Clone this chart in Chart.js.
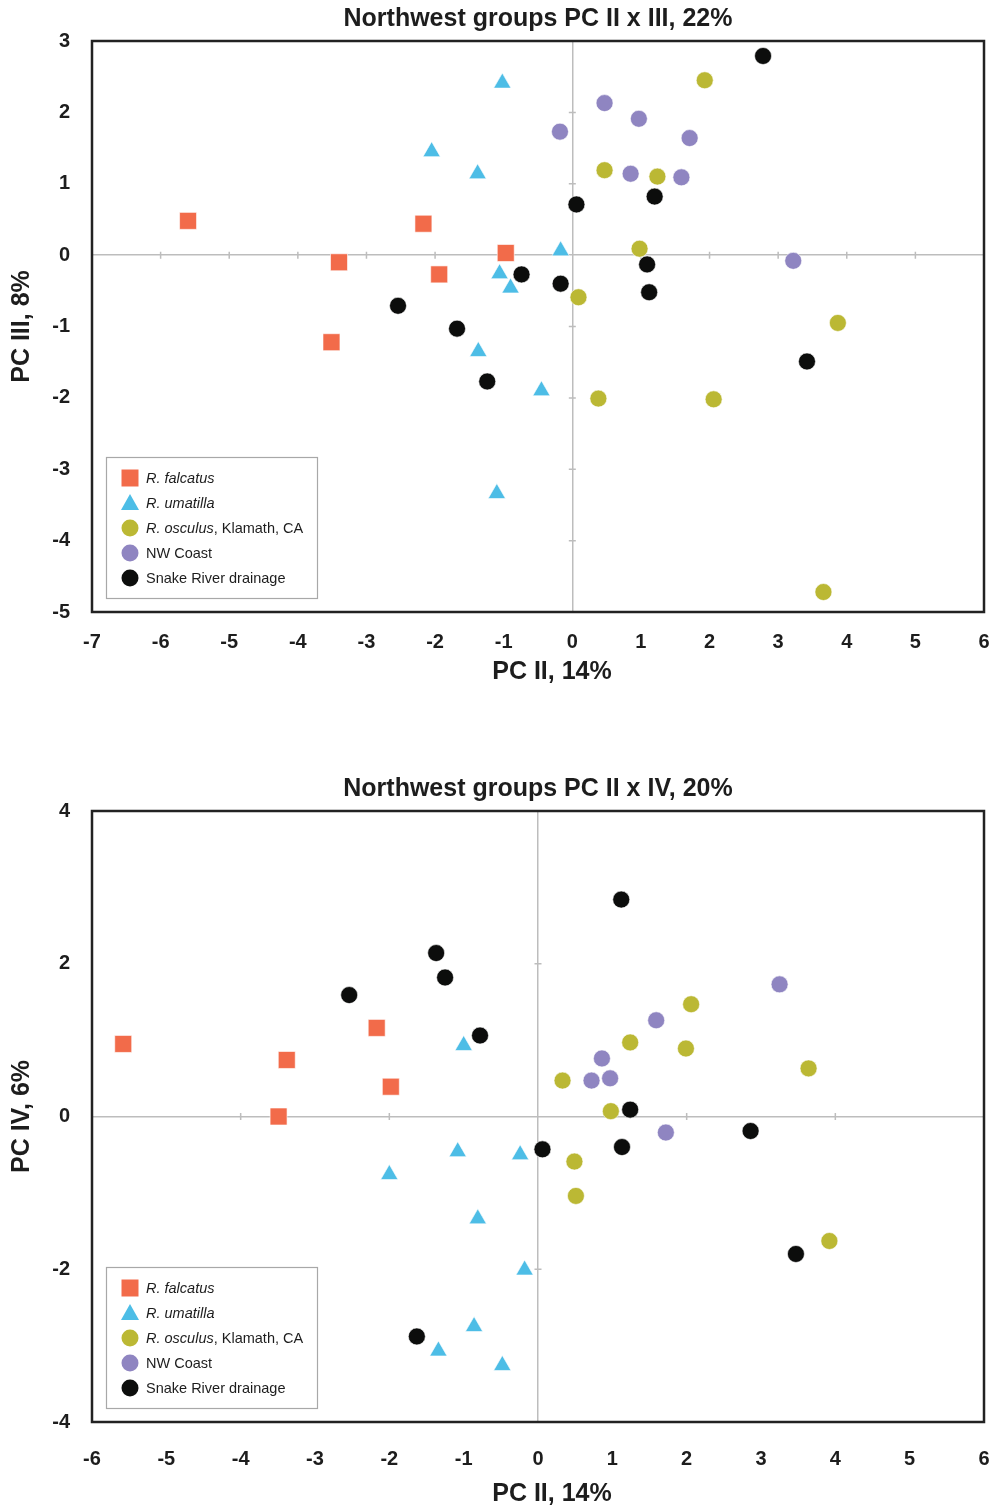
<!DOCTYPE html>
<html>
<head>
<meta charset="utf-8">
<script src="https://cdn.jsdelivr.net/npm/chart.js@4.4.1/dist/chart.umd.min.js"></script>
<style>
  html, body { margin: 0; padding: 0; background: #fff; }
  .wrap { position: absolute; left: 0; width: 997px; }
  #top { top: 0; height: 700px; }
  #bottom { top: 760px; height: 748px; }
</style>
</head>
<body>
<div class="wrap" id="top"><canvas id="chart23" width="997" height="700"></canvas></div>
<div class="wrap" id="bottom"><canvas id="chart24" width="997" height="748"></canvas></div>
<script>
// Groups (same order in both plots)
const groupNames = ['R. falcatus', 'R. umatilla', 'R. osculus, Klamath, CA', 'NW Coast', 'Snake River drainage'];
const legendItalic = ['R. falcatus', 'R. umatilla', 'R. osculus', '', ''];
const legendPlain = ['', '', ', Klamath, CA', 'NW Coast', 'Snake River drainage'];

// PC II x PC III scores [PC II, PC III]
const falcatus23 = [[-5.60, 0.48], [-2.17, 0.44], [-3.40, -0.10], [-0.97, 0.03], [-1.94, -0.27], [-3.51, -1.22]];
const umatilla23 = [[-1.02, 2.41], [-2.05, 1.45], [-1.38, 1.14], [-0.17, 0.06], [-1.06, -0.26], [-0.90, -0.46], [-1.37, -1.35], [-0.45, -1.90], [-1.10, -3.34]];
const osculus23 = [[1.93, 2.45], [0.47, 1.19], [1.24, 1.10], [0.98, 0.09], [0.09, -0.59], [3.87, -0.95], [0.38, -2.01], [2.06, -2.02], [3.66, -4.72]];
const nwcoast23 = [[-0.18, 1.73], [0.47, 2.13], [0.97, 1.91], [1.71, 1.64], [0.85, 1.14], [1.59, 1.09], [3.22, -0.08]];
const snake23 = [[2.78, 2.79], [0.06, 0.71], [1.20, 0.82], [1.09, -0.13], [-0.17, -0.40], [1.12, -0.52], [3.42, -1.49], [-0.74, -0.27], [-2.54, -0.71], [-1.68, -1.03], [-1.24, -1.77]];

// PC II x PC IV scores [PC II, PC IV]
const falcatus24 = [[-5.58, 0.95], [-3.38, 0.74], [-2.17, 1.16], [-1.98, 0.39], [-3.49, 0.00]];
const umatilla24 = [[-1.00, 0.93], [-1.08, -0.46], [-0.24, -0.50], [-2.00, -0.76], [-0.81, -1.34], [-0.18, -2.01], [-0.86, -2.75], [-1.34, -3.07], [-0.48, -3.26]];
const osculus24 = [[2.06, 1.47], [1.24, 0.97], [1.99, 0.89], [3.64, 0.63], [0.33, 0.47], [0.98, 0.07], [0.49, -0.59], [0.51, -1.04], [3.92, -1.63]];
const nwcoast24 = [[3.25, 1.73], [1.59, 1.26], [0.86, 0.76], [0.72, 0.47], [0.97, 0.50], [1.72, -0.21]];
const snake24 = [[-1.37, 2.14], [-1.25, 1.82], [-2.54, 1.59], [-0.78, 1.06], [-1.63, -2.88], [1.12, 2.84], [1.24, 0.09], [0.06, -0.43], [1.13, -0.40], [2.86, -0.19], [3.47, -1.80]];

// Look
const groupColors = ['#f26b4a', '#4dbde6', '#bbb834', '#8f85c1', '#0c0d0c'];
const groupStyles = ['rect', 'triangle', 'circle', 'circle', 'circle'];
const groupRadius = [12, 10, 8.5, 8.5, 8.5];
const fontFamily = "'Liberation Sans', Arial, Helvetica, sans-serif";
const inkColor = '#1d1d1d';
const zeroColor = '#bdbdbd';

// titles, frame, zero-line ticks and the legend box
const framePlugin = {
    id: 'frame',
    beforeDatasetsDraw(chart, args, opts) {
        const {ctx, chartArea: a} = chart;
        const xs = chart.scales.x, ys = chart.scales.y;
        const x0 = xs.getPixelForValue(0), y0 = ys.getPixelForValue(0);
        ctx.save();
        ctx.strokeStyle = zeroColor;
        ctx.lineWidth = 1.5;
        ctx.beginPath();
        for (let v = xs.min + opts.xTick; v < xs.max; v += opts.xTick) {
            if (Math.abs(v) < 1e-9) continue;
            const px = xs.getPixelForValue(v);
            ctx.moveTo(px, y0 - 3.5); ctx.lineTo(px, y0 + 3.5);
        }
        for (let v = ys.min + opts.yTick; v < ys.max; v += opts.yTick) {
            if (Math.abs(v) < 1e-9) continue;
            const py = ys.getPixelForValue(v);
            ctx.moveTo(x0 - 3.5, py); ctx.lineTo(x0 + 3.5, py);
        }
        ctx.stroke();
        ctx.strokeStyle = '#222';
        ctx.lineWidth = 2.5;
        ctx.strokeRect(a.left, a.top, a.right - a.left, a.bottom - a.top);
        ctx.restore();
    },
    afterDatasetsDraw(chart, args, opts) {
        const {ctx, chartArea: a} = chart;
        ctx.save();
        // chart title and x-axis title
        ctx.fillStyle = inkColor;
        ctx.font = 'bold 25px ' + fontFamily;
        ctx.textAlign = 'center';
        ctx.textBaseline = 'middle';
        ctx.fillText(opts.title, (a.left + a.right) / 2, a.top - 22);
        ctx.fillText('PC II, 14%', (a.left + a.right) / 2 + 14, a.bottom + opts.xTitleGap);

        // legend
        const bw = 211, bh = 141;
        const bx = a.left + 14, by = a.bottom - 14 - bh;
        ctx.fillStyle = '#fff';
        ctx.fillRect(bx, by, bw, bh);
        ctx.strokeStyle = '#a8a8a8';
        ctx.lineWidth = 1.2;
        ctx.strokeRect(bx + 0.5, by + 0.5, bw, bh);
        ctx.textAlign = 'left';
        groupNames.forEach((name, i) => {
            const cy = by + 21 + i * 25;
            const mx = bx + 24;
            ctx.fillStyle = groupColors[i];
            ctx.beginPath();
            if (groupStyles[i] === 'rect') {
                ctx.rect(mx - 8.5, cy - 8.5, 17, 17);
            } else if (groupStyles[i] === 'triangle') {
                ctx.moveTo(mx, cy - 9);
                ctx.lineTo(mx + 9, cy + 7);
                ctx.lineTo(mx - 9, cy + 7);
                ctx.closePath();
            } else {
                ctx.arc(mx, cy, 8.5, 0, Math.PI * 2);
            }
            ctx.fill();

            let tx = bx + 40;
            ctx.fillStyle = inkColor;
            if (legendItalic[i]) {
                ctx.font = 'italic 14.5px ' + fontFamily;
                ctx.fillText(legendItalic[i], tx, cy + 1);
                tx += ctx.measureText(legendItalic[i]).width;
            }
            if (legendPlain[i]) {
                ctx.font = '14.5px ' + fontFamily;
                ctx.fillText(legendPlain[i], tx, cy + 1);
            }
        });
        ctx.restore();
    }
};

function makeChart(id, cfg) {
    const datasets = cfg.series.map((pts, i) => ({
        label: groupNames[i],
        data: pts.map(p => ({x: p[0], y: p[1]})),
        pointStyle: groupStyles[i],
        pointRadius: groupRadius[i],
        pointHoverRadius: groupRadius[i],
        backgroundColor: groupColors[i],
        borderColor: 'rgba(255,255,255,0.6)',
        borderWidth: 1,
        order: 4 - i
    }));

    const tickFont = {family: fontFamily, size: 20, weight: 'bold'};
    const titleFont = {family: fontFamily, size: 25, weight: 'bold'};
    const zeroGrid = {
        color: c => (c.tick && c.tick.value === 0) ? zeroColor : 'rgba(0,0,0,0)',
        lineWidth: 1.5,
        drawTicks: false
    };

    return new Chart(document.getElementById(id), {
        type: 'scatter',
        data: {datasets},
        options: {
            responsive: false,
            animation: false,
            layout: {padding: {top: cfg.padTop, right: 5, left: 0, bottom: 0}},
            plugins: {
                legend: {display: false},
                tooltip: {enabled: false},
                frame: {title: cfg.title, xTick: cfg.xTick, yTick: cfg.yTick, xTitleGap: cfg.xTitleGap}
            },
            scales: {
                x: {
                    type: 'linear',
                    min: cfg.xMin, max: cfg.xMax,
                    ticks: {stepSize: 1, padding: cfg.xPad, color: inkColor, font: tickFont, maxRotation: 0},
                    grid: zeroGrid,
                    border: {display: false},
                    afterFit: s => { s.height = cfg.xAxisH; s.paddingLeft = 0; s.paddingRight = 0; }
                },
                y: {
                    type: 'linear',
                    min: cfg.yMin, max: cfg.yMax,
                    ticks: {stepSize: cfg.yStep, padding: 22, color: inkColor, font: tickFont},
                    grid: zeroGrid,
                    border: {display: false},
                    title: {display: true, text: cfg.yTitle, color: inkColor, font: titleFont,
                            padding: {top: 7, bottom: 0}},
                    afterFit: s => { s.width = 92; s.paddingTop = 0; s.paddingBottom = 0; }
                }
            }
        },
        plugins: [framePlugin]
    });
}

makeChart('chart23', {
    title: 'Northwest groups PC II x III, 22%',
    yTitle: 'PC III, 8%',
    series: [falcatus23, umatilla23, osculus23, nwcoast23, snake23],
    xMin: -7, xMax: 6, yMin: -5, yMax: 3, yStep: 1,
    xTick: 1, yTick: 1,
    padTop: 41, xAxisH: 88, xPad: 18, xTitleGap: 60
});

makeChart('chart24', {
    title: 'Northwest groups PC II x IV, 20%',
    yTitle: 'PC IV, 6%',
    series: [falcatus24, umatilla24, osculus24, nwcoast24, snake24],
    xMin: -6, xMax: 6, yMin: -4, yMax: 4, yStep: 2,
    xTick: 2, yTick: 2,
    padTop: 51, xAxisH: 86, xPad: 25, xTitleGap: 72
});
</script>
</body>
</html>
